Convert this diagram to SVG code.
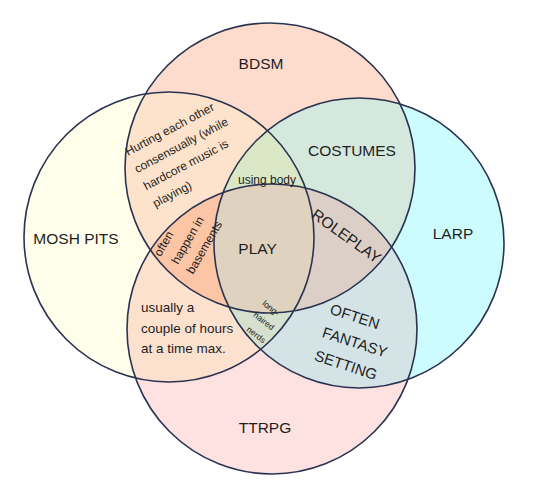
<svg xmlns="http://www.w3.org/2000/svg" width="540" height="496" viewBox="0 0 540 496">
<style>
text{font-family:"Liberation Sans",Arial,Helvetica,sans-serif;fill:#1e1e1e}
.lbl{font-size:15.5px;text-anchor:middle}
.ring{fill:none;stroke:#2a3450;stroke-width:1.6}
.s12{font-size:12px}
</style>
<defs>
<clipPath id="cM"><circle cx="169" cy="237" r="145"/></clipPath>
<clipPath id="cB"><circle cx="270" cy="168" r="145"/></clipPath>
<clipPath id="cL"><circle cx="359" cy="243" r="145"/></clipPath>
<clipPath id="cT"><circle cx="272" cy="329" r="145"/></clipPath>
</defs>
<rect width="540" height="496" fill="#ffffff"/>
<g id="regions">
<circle cx="169" cy="237" r="145" fill="#fefeea"/>
<circle cx="270" cy="168" r="145" fill="#fddcce"/>
<circle cx="359" cy="243" r="145" fill="#cdfcfe"/>
<circle cx="272" cy="329" r="145" fill="#fee1e1"/>
<circle cx="270" cy="168" r="145" fill="#fde3cb" clip-path="url(#cM)"/>
<circle cx="359" cy="243" r="145" fill="#d4e8de" clip-path="url(#cB)"/>
<circle cx="272" cy="329" r="145" fill="#d4e3e6" clip-path="url(#cL)"/>
<circle cx="272" cy="329" r="145" fill="#fde1cf" clip-path="url(#cM)"/>
<circle cx="359" cy="243" r="145" fill="#e5eed8" clip-path="url(#cM)"/>
<circle cx="272" cy="329" r="145" fill="#f6cdbf" clip-path="url(#cB)"/>
<g clip-path="url(#cM)"><circle cx="272" cy="329" r="145" fill="#fbc5a6" clip-path="url(#cB)"/></g>
<g clip-path="url(#cB)"><circle cx="272" cy="329" r="145" fill="#dccfc8" clip-path="url(#cL)"/></g>
<g clip-path="url(#cM)"><circle cx="359" cy="243" r="145" fill="#dbe8c8" clip-path="url(#cB)"/></g>
<g clip-path="url(#cM)"><circle cx="272" cy="329" r="145" fill="#d6e0cf" clip-path="url(#cL)"/></g>
<g clip-path="url(#cM)"><g clip-path="url(#cB)"><circle cx="272" cy="329" r="145" fill="#dfd2bf" clip-path="url(#cL)"/></g></g>
</g>
<g id="bdsm"><circle class="ring" cx="270" cy="168" r="145"/><text class="lbl" x="261" y="69">BDSM</text></g>
<g id="mosh-pits"><circle class="ring" cx="169" cy="237" r="145"/><text class="lbl" x="76" y="243.5">MOSH PITS</text></g>
<g id="larp"><circle class="ring" cx="359" cy="243" r="145"/><text class="lbl" x="453" y="238.5">LARP</text></g>
<g id="ttrpg"><circle class="ring" cx="272" cy="329" r="145"/><text class="lbl" x="265" y="432.5">TTRPG</text></g>
<g id="costumes"><text class="lbl" x="352" y="155.5">COSTUMES</text></g>
<g id="play"><text class="lbl" x="257.6" y="253.5">PLAY</text></g>
<g id="roleplay"><text class="lbl" transform="translate(346.5,236) rotate(35.5)" x="0" y="5.5">ROLEPLAY</text></g>
<g id="fantasy" transform="translate(355,342) rotate(18)">
<text class="lbl" style="font-size:15px" x="-8" y="-19">OFTEN</text>
<text class="lbl" style="font-size:15px" x="0" y="5.5">FANTASY</text>
<text class="lbl" style="font-size:15px" x="-1.5" y="30">SETTING</text>
</g>
<g id="hurting" transform="translate(128,156) rotate(-28)">
<text class="s12" x="0" y="0">Hurting each other</text>
<text class="s12" x="0" y="19.5">consensually (while</text>
<text class="s12" x="0" y="39">hardcore music is</text>
<text class="s12" x="0" y="58.5">playing)</text>
</g>
<g id="using-body"><text class="s12" x="267" y="184" text-anchor="middle">using body</text></g>
<g id="basements" transform="translate(178,265) rotate(-60)">
<text class="s12" x="-2" y="-19">often</text>
<text class="s12" x="0" y="0">happen in</text>
<text class="s12" x="-1" y="18">basements</text>
</g>
<g id="usually">
<text style="font-size:13.5px" x="141" y="312">usually a</text>
<text style="font-size:13.5px" x="141" y="332.5">couple of hours</text>
<text style="font-size:13.5px" x="141" y="353">at a time max.</text>
</g>
<g id="nerds" transform="translate(264,321) rotate(38)">
<text style="font-size:8.5px;text-anchor:middle" x="-2.5" y="-11.5">long-</text>
<text style="font-size:8.5px;text-anchor:middle" x="0" y="3">haired</text>
<text style="font-size:8.5px;text-anchor:middle" x="2.3" y="18.5">nerds</text>
</g>
<g id="connectors"/>
</svg>
